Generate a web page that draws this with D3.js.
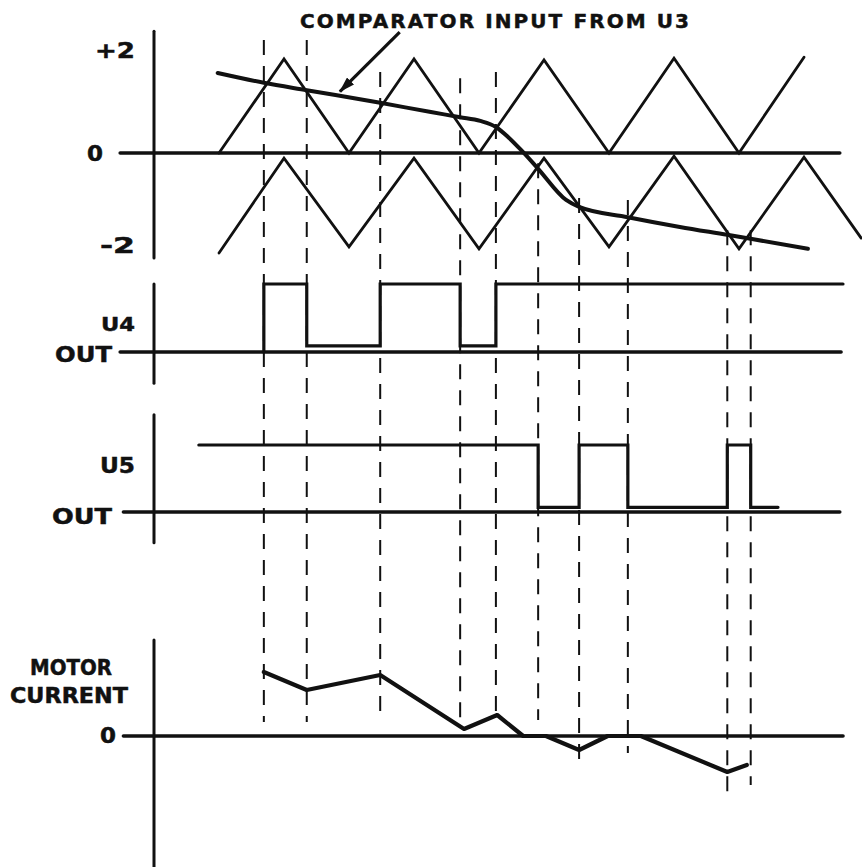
<!DOCTYPE html>
<html>
<head>
<meta charset="utf-8">
<script src="https://cdn.jsdelivr.net/npm/d3@7"></script>
<style>
  html, body { margin: 0; padding: 0; background: #fff; }
  svg { display: block; }
  text { font-family: "DejaVu Sans", "Liberation Sans", sans-serif; font-weight: bold; fill: #111; stroke: #111; stroke-width: 0.5; }
</style>
</head>
<body>
<script>
// ---------- DATA ----------
// time axis: triangle carrier vertices fall on integer times
const triTimes = [0, 1, 2, 3, 4, 5, 6, 7, 8, 9];
const upperTriValues = [0, 2.02, 0, 2.02, 0, 2.0, 0, 2.04, 0, 2.06];
const lowerTriTimes = [0, 1, 2, 3, 4, 5, 6, 7, 8, 9, 9.88];
const lowerTriValues = [-2.15, -0.11, -2.02, -0.11, -2.06, -0.11, -2.02, -0.07, -2.06, -0.09, -1.83];

// comparator input from U3
const compTimes = [-0.02, 0.69, 1.35, 2.48, 3.26, 3.71, 4.02, 4.26, 4.45, 4.65, 4.91, 5.34, 5.54, 6.29, 7.09, 7.82, 8.2, 9.06];
const compValues = [1.72, 1.51, 1.35, 1.08, 0.88, 0.77, 0.69, 0.56, 0.34, 0.06, -0.34, -1.01, -1.16, -1.38, -1.59, -1.76, -1.85, -2.06];

// switching instants (dashed lines)
const switchTimes = [0.69, 1.35, 2.48, 3.71, 4.26, 4.91, 5.54, 6.29, 7.82, 8.18];
const dashTopValues = [2.43, 2.43, 1.74, 1.61, 1.74, -0.22, -0.97, -1.01, -1.66, -1.66];   // in top-panel units
const dashBottomValues = [0.7, 0.7, 0.7, 0.65, 0.8, 0.8, -1.6, -0.85, -3.1, -2.45];         // in motor-current units

// U4 output (1 = high, 0.09 = low)
const u4Times = [0.69, 0.69, 1.35, 1.35, 2.48, 2.48, 3.71, 3.71, 4.26, 4.26, 9.6];
const u4Levels = [0, 1, 1, 0.09, 0.09, 1, 1, 0.09, 0.09, 1, 1];

// U5 output
const u5Times = [-0.31, 4.91, 4.91, 5.54, 5.54, 6.29, 6.29, 7.82, 7.82, 8.18, 8.18, 8.6];
const u5Levels = [1, 1, 0.07, 0.07, 1, 1, 0.07, 0.07, 1, 1, 0.07, 0.07];

// motor current
const motorTimes = [0.69, 1.35, 2.48, 3.77, 4.28, 4.68, 5.03, 5.54, 5.98, 6.49, 7.82, 8.12];
const motorValues = [3.2, 2.3, 3.05, 0.35, 1.05, 0, 0, -0.7, 0, 0, -1.8, -1.45];

// labels
const topTickLabels = ["+2", "0", "-2"];
const titleText = "COMPARATOR INPUT FROM U3";

// ---------- CHART ----------
const W = 862, H = 867;
const svg = d3.select("body").append("svg").attr("width", W).attr("height", H);
svg.append("rect").attr("width", W).attr("height", H).attr("fill", "#fff");

const x = d3.scaleLinear().domain([-1, 9]).range([154, 804]);
const yTop = d3.scaleLinear().domain([-2, 2]).range([246, 60]);
const yU4 = d3.scaleLinear().domain([0, 1]).range([352, 284]);
const yU5 = d3.scaleLinear().domain([0, 1]).range([512, 445]);
const yMot = d3.scaleLinear().domain([-2, 3]).range([776, 676]);

const ink = "#111";

// dashed switching lines
svg.append("g").selectAll("line").data(switchTimes).join("line")
  .attr("x1", d => x(d)).attr("x2", d => x(d))
  .attr("y1", (d, i) => yTop(dashTopValues[i]))
  .attr("y2", (d, i) => yMot(dashBottomValues[i]))
  .attr("stroke", ink).attr("stroke-width", 2)
  .attr("stroke-dasharray", "15,11");

// axes (vertical) and zero lines
const axisG = svg.append("g").attr("stroke", ink).attr("stroke-linecap", "round");
const vAxes = [
  [yTop(2.62), yTop(-2.26)],
  [yU4(1.0), yU4(-0.46)],
  [yU5(1.45), yU5(-0.46)],
  [yMot(4.8), yMot(-6.6)]
];
vAxes.forEach(([a, b]) => axisG.append("line")
  .attr("x1", x(-1)).attr("x2", x(-1)).attr("y1", a).attr("y2", b).attr("stroke-width", 3));

const zeroLines = [
  [x(-1.52), x(9.55), yTop(0)],
  [x(-1.52), x(9.57), yU4(0)],
  [x(-1.47), x(9.55), yU5(0)],
  [x(-1.47), x(9.6), yMot(0)]
];
zeroLines.forEach(([a, b, yy]) => axisG.append("line")
  .attr("x1", a).attr("x2", b).attr("y1", yy).attr("y2", yy).attr("stroke-width", 3.6));

// triangle carriers
const lineTop = d3.line().x(d => x(d[0])).y(d => yTop(d[1]));
svg.append("path").datum(d3.zip(triTimes, upperTriValues))
  .attr("d", lineTop).attr("fill", "none").attr("stroke", ink).attr("stroke-width", 2.8)
  .attr("stroke-linejoin", "miter").attr("stroke-linecap", "round");
svg.append("path").datum(d3.zip(lowerTriTimes, lowerTriValues))
  .attr("d", lineTop).attr("fill", "none").attr("stroke", ink).attr("stroke-width", 2.8)
  .attr("stroke-linejoin", "miter").attr("stroke-linecap", "round");

// comparator input
svg.append("path").datum(d3.zip(compTimes, compValues))
  .attr("d", d3.line().x(d => x(d[0])).y(d => yTop(d[1])).curve(d3.curveMonotoneX))
  .attr("fill", "none").attr("stroke", ink).attr("stroke-width", 4).attr("stroke-linecap", "round");

// square waves
svg.append("path").datum(d3.zip(u4Times, u4Levels))
  .attr("d", d3.line().x(d => x(d[0])).y(d => yU4(d[1])))
  .attr("fill", "none").attr("stroke", ink).attr("stroke-width", 3.2).attr("stroke-linecap", "round");
svg.append("path").datum(d3.zip(u5Times, u5Levels))
  .attr("d", d3.line().x(d => x(d[0])).y(d => yU5(d[1])))
  .attr("fill", "none").attr("stroke", ink).attr("stroke-width", 3.2).attr("stroke-linecap", "round");

// motor current
svg.append("path").datum(d3.zip(motorTimes, motorValues))
  .attr("d", d3.line().x(d => x(d[0])).y(d => yMot(d[1])))
  .attr("fill", "none").attr("stroke", ink).attr("stroke-width", 4.2)
  .attr("stroke-linecap", "round").attr("stroke-linejoin", "round");

// arrow to the comparator curve
svg.append("defs").append("marker")
  .attr("id", "ah").attr("viewBox", "0 0 16 10").attr("refX", 15).attr("refY", 5)
  .attr("markerWidth", 16).attr("markerHeight", 10).attr("markerUnits", "userSpaceOnUse")
  .attr("orient", "auto")
  .append("path").attr("d", "M0,0 L16,5 L0,10 Z").attr("fill", ink);
svg.append("line")
  .attr("x1", x(2.78)).attr("y1", yTop(2.6))
  .attr("x2", x(1.86)).attr("y2", yTop(1.32))
  .attr("stroke", ink).attr("stroke-width", 3.2).attr("marker-end", "url(#ah)");

// texts
function label(txt, xr, yb, size, len, anchor, adj) {
  const t = svg.append("text").text(txt).attr("x", xr).attr("y", yb)
    .attr("font-size", size).attr("text-anchor", anchor || "end");
  if (len) t.attr("textLength", len).attr("lengthAdjust", adj || "spacingAndGlyphs");
  return t;
}
label(titleText, 300, 28, 20, 389, "start", "spacing");
label(topTickLabels[0], 135, yTop(2) - 2, 21, 40);
label(topTickLabels[1], 103, yTop(0) + 8, 22, 16);
label(topTickLabels[2], 135, yTop(-2) + 7, 21, 35);

label("U4", 135, 331, 20, 34);
label("OUT", 112, 362, 22, 57);
label("U5", 135, 473, 21, 35);
label("OUT", 112, 524, 22, 60);

label("MOTOR", 112, 675, 21, 82);
label("CURRENT", 128, 703, 21, 118);
label("0", 116, yMot(0) + 7, 22, 16);
</script>
</body>
</html>
